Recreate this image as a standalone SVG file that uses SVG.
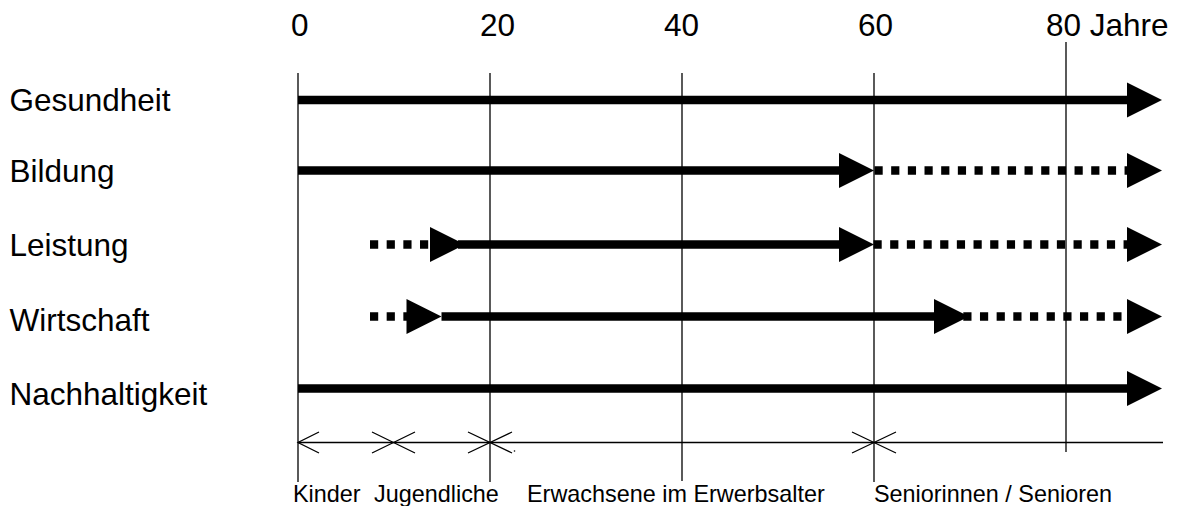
<svg xmlns="http://www.w3.org/2000/svg" width="1185" height="506" viewBox="0 0 1185 506">
<style>
text{font-family:"Liberation Sans",Arial,sans-serif;fill:#000}
.big{font-size:31.5px}
.small{font-size:23.4px}
.grid{stroke:#000;stroke-width:1.3;fill:none}
.solid{stroke:#000;stroke-width:8.5;fill:none}
.dot{stroke:#000;stroke-width:8.5;fill:none;stroke-dasharray:8.2 8.47}
.head{fill:#000}
</style>
<defs>
<path id="tri" d="M0,-17.5 L35,0 L0,17.5 Z"/>
</defs>
<rect width="1185" height="506" fill="#fff"/>
<g id="axis">
<text class="big" x="291" y="36">0</text>
<text class="big" x="480" y="36">20</text>
<text class="big" x="664" y="36">40</text>
<text class="big" x="858" y="36">60</text>
<text class="big" x="1046" y="36">80 Jahre</text>
<line class="grid" x1="298" y1="73" x2="298" y2="482"/>
<line class="grid" x1="490" y1="73" x2="490" y2="482"/>
<line class="grid" x1="682" y1="73" x2="682" y2="481"/>
<line class="grid" x1="874" y1="73" x2="874" y2="482"/>
<line class="grid" x1="1066" y1="42" x2="1066" y2="452"/>
</g>
<g id="row-gesundheit">
<text class="big" x="9.5" y="111">Gesundheit</text>
</g>
<g id="row-bildung">
<text class="big" x="9.5" y="182">Bildung</text>
</g>
<g id="row-leistung">
<text class="big" x="9.5" y="256">Leistung</text>
</g>
<g id="row-wirtschaft">
<text class="big" x="9.5" y="331">Wirtschaft</text>
</g>
<g id="row-nachhaltigkeit">
<text class="big" x="9.5" y="405">Nachhaltigkeit</text>
</g>
<g id="connectors">
<!-- Gesundheit -->
<line class="solid" x1="298" y1="100" x2="1130" y2="100"/>
<use href="#tri" class="head" x="1127" y="100"/>
<!-- Bildung -->
<line class="solid" x1="298" y1="170.5" x2="842" y2="170.5"/>
<use href="#tri" class="head" x="839" y="170.5"/>
<line class="dot" x1="874.5" y1="170.5" x2="1128" y2="170.5"/>
<use href="#tri" class="head" x="1127" y="170.5"/>
<!-- Leistung -->
<line class="dot" x1="370" y1="244.5" x2="432" y2="244.5"/>
<use href="#tri" class="head" x="430" y="244.5"/>
<line class="solid" x1="458" y1="244.5" x2="842" y2="244.5"/>
<use href="#tri" class="head" x="839" y="244.5"/>
<line class="dot" x1="873.5" y1="244.5" x2="1128" y2="244.5"/>
<use href="#tri" class="head" x="1127" y="244.5"/>
<!-- Wirtschaft -->
<line class="dot" x1="370" y1="316.5" x2="412" y2="316.5"/>
<use href="#tri" class="head" x="406.5" y="316.5"/>
<line class="solid" x1="441.5" y1="316.5" x2="937" y2="316.5"/>
<use href="#tri" class="head" x="934" y="316.5"/>
<line class="dot" x1="963.3" y1="316.5" x2="1128" y2="316.5"/>
<use href="#tri" class="head" x="1127" y="316.5"/>
<!-- Nachhaltigkeit -->
<line class="solid" x1="298" y1="388.5" x2="1130" y2="388.5"/>
<use href="#tri" class="head" x="1127" y="388.5"/>
</g>
<g id="phases">
<line class="grid" x1="298" y1="442.5" x2="1163" y2="442.5"/>
<polyline class="grid" points="319,432 298,442.5 319,453"/>
<path class="grid" d="M372,432 L415,453 M372,453 L415,432"/>
<path class="grid" d="M468,432 L512,453 M468,453 L512,432"/>
<path class="grid" d="M852,432 L896,453 M852,453 L896,432"/>
<circle cx="514.5" cy="451" r="0.8" fill="#000"/>
<text class="small" x="293" y="502">Kinder</text>
<text class="small" x="374" y="502">Jugendliche</text>
<text class="small" x="527" y="502">Erwachsene im Erwerbsalter</text>
<text class="small" x="874" y="502">Seniorinnen / Senioren</text>
</g>
</svg>
